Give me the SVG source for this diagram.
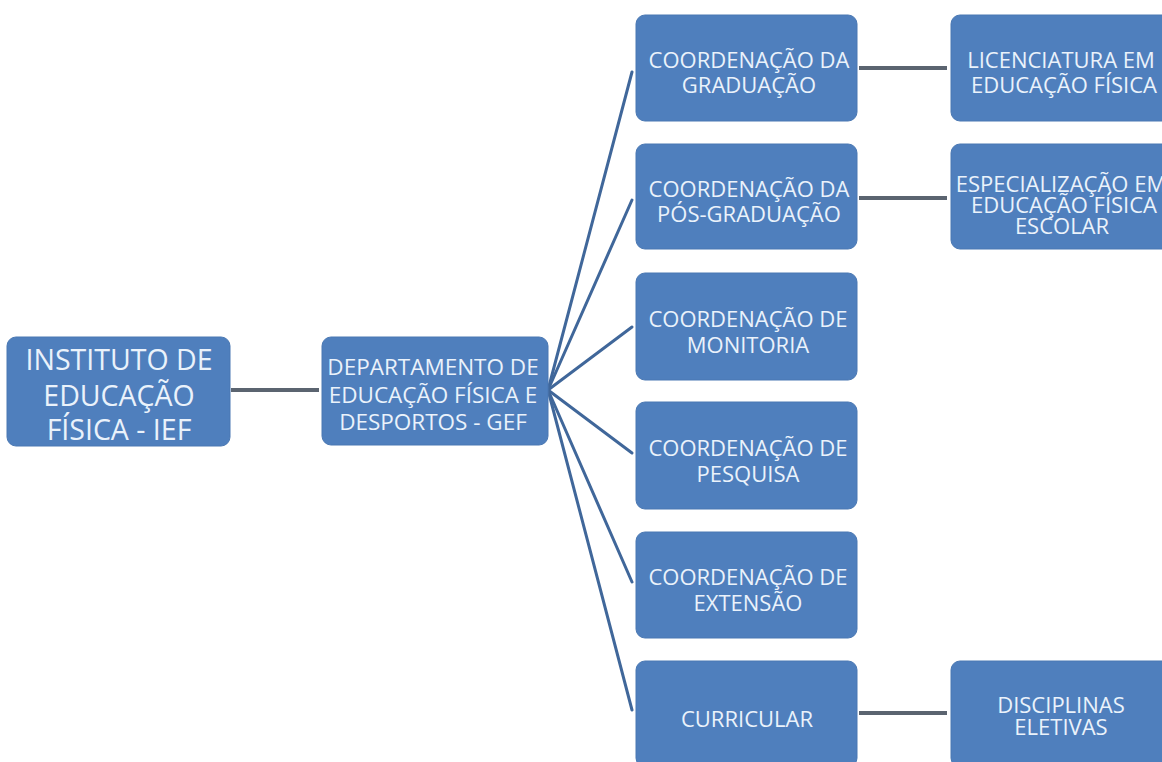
<svg xmlns="http://www.w3.org/2000/svg" width="1162" height="762" viewBox="0 0 1162 762">
<style>
.box{fill:#4f7fbd;stroke:#4a78b3;stroke-width:1}
.t{font-family:"Open Sans","Noto Sans",sans-serif;fill:#eaf2fb;text-anchor:middle;font-size:22px}
.big{font-size:28.5px}
.mid{font-size:22.5px}
.h{stroke:#5b6470;stroke-width:4;fill:none}
.f{stroke:#40679a;stroke-width:3;fill:none;stroke-linecap:round}
</style>
<rect width="1162" height="762" fill="#ffffff"/>
<g id="connectors">
<line class="h" x1="231" y1="390" x2="319" y2="390"/>
<line class="h" x1="859" y1="68" x2="947" y2="68"/>
<line class="h" x1="859" y1="198" x2="947" y2="198"/>
<line class="h" x1="859" y1="713" x2="947" y2="713"/>
<line class="f" x1="548" y1="390" x2="632" y2="72"/>
<line class="f" x1="548" y1="390" x2="632" y2="200"/>
<line class="f" x1="548" y1="390" x2="632" y2="327"/>
<line class="f" x1="548" y1="390" x2="632" y2="453"/>
<line class="f" x1="548" y1="390" x2="632" y2="582"/>
<line class="f" x1="548" y1="390" x2="632" y2="710"/>
</g>
<g id="ief">
<rect class="box" x="7" y="337" width="223" height="109" rx="9"/>
<text class="t big" x="119" y="370">INSTITUTO DE</text>
<text class="t big" x="119" y="406">EDUCAÇÃO</text>
<text class="t big" x="119" y="440">FÍSICA - IEF</text>
</g>
<g id="gef">
<rect class="box" x="322" y="337" width="226" height="108" rx="9"/>
<text class="t mid" x="433" y="375">DEPARTAMENTO DE</text>
<text class="t mid" x="433" y="403">EDUCAÇÃO FÍSICA E</text>
<text class="t mid" x="433" y="430">DESPORTOS - GEF</text>
</g>
<g id="graduacao">
<rect class="box" x="636" y="15" width="221" height="106" rx="9"/>
<text class="t" x="749" y="68">COORDENAÇÃO DA</text>
<text class="t" x="749" y="93">GRADUAÇÃO</text>
</g>
<g id="posgraduacao">
<rect class="box" x="636" y="144" width="221" height="105" rx="9"/>
<text class="t" x="749" y="197">COORDENAÇÃO DA</text>
<text class="t" x="749" y="222">PÓS-GRADUAÇÃO</text>
</g>
<g id="monitoria">
<rect class="box" x="636" y="273" width="221" height="107" rx="9"/>
<text class="t" x="748" y="327">COORDENAÇÃO DE</text>
<text class="t" x="748" y="353">MONITORIA</text>
</g>
<g id="pesquisa">
<rect class="box" x="636" y="402" width="221" height="107" rx="9"/>
<text class="t" x="748" y="456">COORDENAÇÃO DE</text>
<text class="t" x="748" y="482">PESQUISA</text>
</g>
<g id="extensao">
<rect class="box" x="636" y="532" width="221" height="106" rx="9"/>
<text class="t" x="748" y="585">COORDENAÇÃO DE</text>
<text class="t" x="748" y="611">EXTENSÃO</text>
</g>
<g id="curricular">
<rect class="box" x="636" y="661" width="221" height="106" rx="9"/>
<text class="t" x="747" y="727">CURRICULAR</text>
</g>
<g id="licenciatura">
<rect class="box" x="951" y="15" width="221" height="106" rx="9"/>
<text class="t" x="1061" y="68">LICENCIATURA EM</text>
<text class="t" x="1064" y="93">EDUCAÇÃO FÍSICA</text>
</g>
<g id="especializacao">
<rect class="box" x="951" y="144" width="221" height="105" rx="9"/>
<text class="t" x="1061" y="192">ESPECIALIZAÇÃO EM</text>
<text class="t" x="1064" y="213">EDUCAÇÃO FÍSICA</text>
<text class="t" x="1062" y="234">ESCOLAR</text>
</g>
<g id="disciplinas">
<rect class="box" x="951" y="661" width="221" height="106" rx="9"/>
<text class="t" x="1061" y="713">DISCIPLINAS</text>
<text class="t" x="1061" y="735">ELETIVAS</text>
</g>
</svg>
